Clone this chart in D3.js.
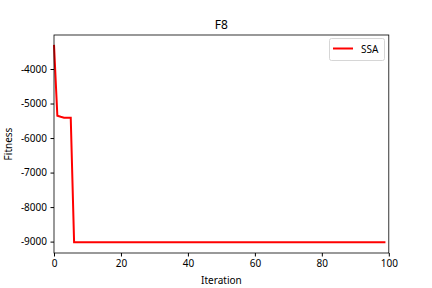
<!DOCTYPE html>
<html><head><meta charset="utf-8">
<script src="https://cdn.jsdelivr.net/npm/d3@7"></script>
<style>body{margin:0;background:#fff}svg{display:block}text{font-family:"Noto Sans","DejaVu Sans",sans-serif}</style>
</head><body>
<script>
// Best-so-far fitness; points where the curve changes (iteration, value)
const iterations = [0, 1, 2, 3, 5, 6, 99];
const ssaFitness = [-3300, -5355, -5385, -5410, -5410, -9015, -9015];
const xTicks = [0, 20, 40, 60, 80, 100];
const yTicks = [-9000, -8000, -7000, -6000, -5000, -4000];
const title = "F8", xLabel = "Iteration", yLabel = "Fitness", seriesName = "SSA";

const W = 432, H = 288, L = 54, R = 388.8, T = 35, B = 253;
const svg = d3.select("body").append("svg").attr("width", W).attr("height", H);
const x = d3.scaleLinear().domain([0, 100]).range([L, R]);
const y = d3.scaleLinear().domain([-9330, -3015]).range([B, T]);

svg.append("g").attr("transform", `translate(0,${B})`)
  .call(d3.axisBottom(x).tickValues(xTicks).tickSize(3.5).tickPadding(3.5).tickFormat(d3.format("d")))
  .call(g => g.select(".domain").remove())
  .call(g => g.selectAll("text").attr("font-size", 10).attr("fill", "#000").attr("font-family", null));
svg.append("g").attr("transform", `translate(${L},0)`)
  .call(d3.axisLeft(y).tickValues(yTicks).tickSize(3.5).tickPadding(3.5).tickFormat(d => String(d)))
  .call(g => g.select(".domain").remove())
  .call(g => g.selectAll("text").attr("font-size", 10).attr("fill", "#000").attr("font-family", null));

const pts = iterations.map((d, i) => [d, ssaFitness[i]]);
svg.append("path").datum(pts)
  .attr("d", d3.line().x(d => x(d[0])).y(d => y(d[1])))
  .attr("fill", "none").attr("stroke", "red").attr("stroke-width", 2);

svg.append("rect").attr("x", L).attr("y", T).attr("width", R - L).attr("height", B - T)
  .attr("fill", "none").attr("stroke", "#000").attr("stroke-width", 0.8);

svg.append("text").attr("x", (L + R) / 2).attr("y", T - 6).attr("text-anchor", "middle")
  .attr("font-size", 12).text(title);
svg.append("text").attr("x", (L + R) / 2).attr("y", 284).attr("text-anchor", "middle")
  .attr("font-size", 10).text(xLabel);
svg.append("text").attr("transform", `translate(12,${(T + B) / 2}) rotate(-90)`).attr("text-anchor", "middle")
  .attr("font-size", 10).text(yLabel);

const lg = svg.append("g");
lg.append("rect").attr("x", 329.5).attr("y", 38.5).attr("width", 55).attr("height", 22).attr("rx", 2)
  .attr("fill", "#fff").attr("stroke", "#ccc").attr("stroke-width", 0.8);
lg.append("line").attr("x1", 333).attr("x2", 353).attr("y1", 48.5).attr("y2", 48.5)
  .attr("stroke", "red").attr("stroke-width", 2);
lg.append("text").attr("x", 361).attr("y", 52.5).attr("font-size", 10).text(seriesName);
</script>
</body></html>
